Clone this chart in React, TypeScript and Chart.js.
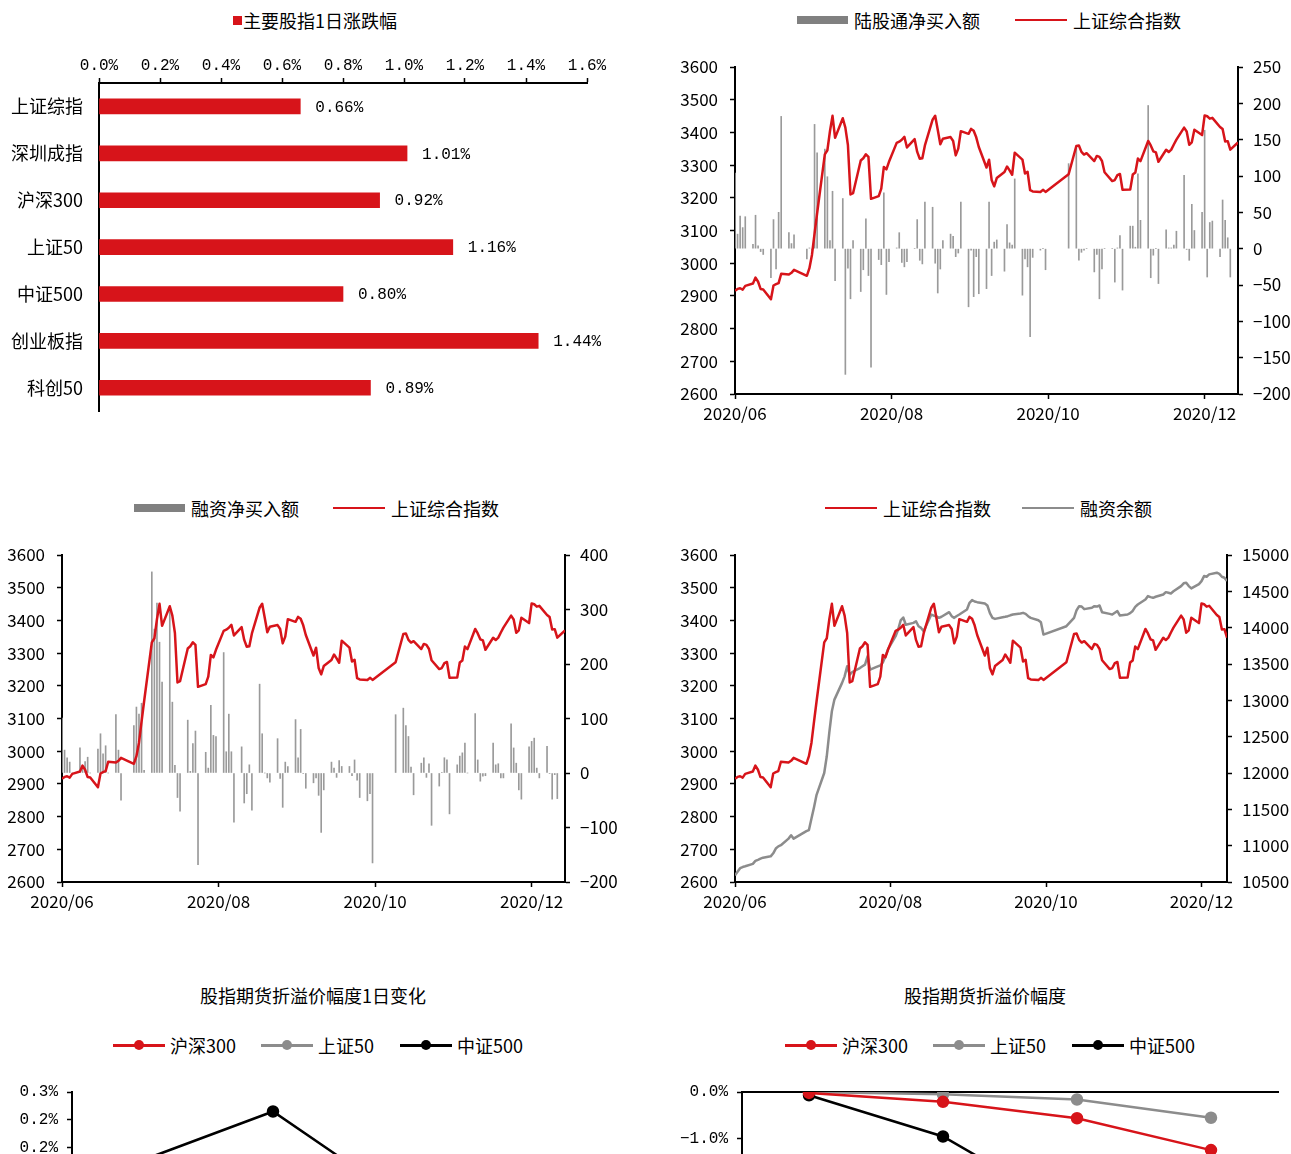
import React, { useEffect, useRef } from "react";
import { Chart, registerables } from "chart.js";
Chart.register(...registerables);

const RED = "#D7141A";
const GRAY_BAR = "#9A9A9A";
const GRAY_LINE = "#8C8C8C";
const CJK = '"Noto Sans CJK SC", "Noto Sans", sans-serif';
const MONO = '"Liberation Mono", "DejaVu Sans Mono", monospace';

// ---- Chart 1: 主要股指1日涨跌幅 ----
const indexNames = ["上证综指", "深圳成指", "沪深300", "上证50", "中证500", "创业板指", "科创50"];
const indexChanges = [0.66, 1.01, 0.92, 1.16, 0.8, 1.44, 0.89];

// ---- Trading days (month, days) 2020/06/01 - 2020/12/14 ----
const tradingDays: [number, number[]][] = [
  [6, [1, 2, 3, 4, 5, 8, 9, 10, 11, 12, 15, 16, 17, 18, 19, 22, 23, 24, 29, 30]],
  [7, [1, 2, 3, 6, 7, 8, 9, 10, 13, 14, 15, 16, 17, 20, 21, 22, 23, 24, 27, 28, 29, 30, 31]],
  [8, [3, 4, 5, 6, 7, 10, 11, 12, 13, 14, 17, 18, 19, 20, 21, 24, 25, 26, 27, 28, 31]],
  [9, [1, 2, 3, 4, 7, 8, 9, 10, 11, 14, 15, 16, 17, 18, 21, 22, 23, 24, 25, 28, 29, 30]],
  [10, [9, 12, 13, 14, 15, 16, 19, 20, 21, 22, 23, 26, 27, 28, 29, 30]],
  [11, [2, 3, 4, 5, 6, 9, 10, 11, 12, 13, 16, 17, 18, 19, 20, 23, 24, 25, 26, 27, 30]],
  [12, [1, 2, 3, 4, 7, 8, 9, 10, 11, 14]],
];

// 上证综合指数
const shComposite = [
  2915.43, 2921.4, 2923.37, 2919.25, 2930.8, 2937.77, 2956.11, 2943.32, 2920.9, 2919.74, 2890.03, 2931.75, 2935.87, 2939.32, 2967.63, 2965.27, 2970.62, 2979.55, 2961.52, 2984.67,
  3025.98, 3090.57, 3152.81, 3332.88, 3345.34, 3403.44, 3450.59, 3383.32, 3443.29, 3414.62, 3361.3, 3210.1, 3214.13, 3314.15, 3320.9, 3333.16, 3325.11, 3196.77, 3205.23, 3227.96, 3294.55, 3286.82, 3310.01,
  3367.97, 3371.69, 3377.56, 3386.46, 3354.04, 3379.25, 3340.29, 3319.27, 3320.73, 3360.1, 3438.8, 3451.09, 3408.13, 3363.9, 3380.68, 3385.64, 3373.58, 3329.74, 3350.44, 3403.81, 3395.68,
  3410.61, 3404.8, 3384.98, 3355.37, 3292.59, 3316.42, 3254.63, 3234.82, 3260.35, 3278.81, 3295.68, 3283.92, 3270.44, 3338.09, 3316.94, 3274.3, 3279.71, 3223.18, 3219.42, 3217.53, 3224.36, 3218.05,
  3272.08, 3358.47, 3359.75, 3340.47, 3332.18, 3336.36, 3312.5, 3328.1, 3325.03, 3312.49, 3278.0, 3251.12, 3254.32, 3269.24, 3272.74, 3224.53,
  3225.12, 3271.07, 3277.44, 3320.13, 3312.16, 3373.73, 3360.15, 3342.2, 3338.68, 3310.1, 3346.97, 3339.9, 3347.3, 3363.09, 3377.73, 3414.49, 3402.82, 3362.33, 3369.73, 3408.31, 3391.76,
  3451.94, 3449.38, 3442.14, 3444.58, 3416.6, 3410.18, 3371.96, 3373.28, 3347.19, 3369.12,
];

// 陆股通净买入额（亿元）
const northboundNetBuy: (number | null)[] = [
  104, 20, 45, 29, 44, 6, 46, 4, -4, -8, -40, 40, -28, 50, 182, 22, 7, 19, -14, 1,
  -2, 171, 132, 137, 99, 11, 79, -44, 69, -173, -27, -69, 11, -59, -29, 41, -37, -163, -15, -22, 77, -63, -18,
  1, 22, -19, -25, -18, 0, 40, -16, -21, 64, 57, -20, -61, -28, 11, 20, 17, -11, -6, 64, -80,
  -2, -66, -11, -62, -55, 64, -37, 9, 12, -31, 33, 8, 5, 96, -64, -14, -25, -121, -12, -2, 0, -29,
  117, 140, -16, -5, -2, 0, -32, -8, -69, -28, 0, 0, -46, 1, 18, -57,
  31, 31, 2, 103, 39, 197, -40, -9, 0, -48, 26, 1, 1, 5, 24, 101, -1, -16, 61, 25, 50,
  163, -39, 36, 38, -11, 67, 39, 15, -39, null,
];

// 融资净买入额（亿元）
const marginNetBuy: (number | null)[] = [
  101, 42, 28, 20, 0, 46, 8, 21, 29, 0, 44, 72, 35, 50, 0, 107, 42, -50, 87, 121,
  108, 128, 5, 369, 264, 312, 240, 167, 306, 130, 14, -45, -70, 97, 3, 54, 77, -168, 38, 9, 124, 69, 67,
  221, 39, 108, 39, -90, 48, -55, -38, 15, -68, 163, 72, 0, -9, -17, 63, -10, -63, 20, 12, 98,
  28, 80, -1, -28, -18, -9, -41, -109, -31, 20, 9, -8, 23, 12, 12, -5, 24, -13, -45, -51, -38, -165,
  107, 119, 87, 67, 11, -40, 18, 28, -8, 17, -96, -24, 1, 28, 24, -75,
  15, 31, 37, 55, 0, 109, 24, -15, -6, -5, 55, 15, 17, -9, -9, 90, 46, 18, -31, -48, 48,
  58, 64, 9, -9, 49, -1, -48, -3, -47, null,
];

// 融资余额（亿元）
const marginBalance: (number | null)[] = [
  10591, 10640, 10690, 10706, 10716, 10750, 10790, 10805, 10821, 10835, 10853, 10895, 10960, 10990, 11006, 11097, 11143, 11097, 11200, 11215,
  11374, 11530, 11700, 12000, 12230, 12560, 12850, 13010, 13240, 13330, 13468, 13352, 13390, 13444, 13468, 13491, 13606, 13422, 13468, 13480, 13520, 13606, 13700,
  13882, 13974, 14100, 14140, 14040, 14066, 14089, 14020, 13997, 13951, 14181, 14165, 14158, 14135, 14150, 14213, 14158, 14135, 14160, 14181, 14250,
  14342, 14379, 14360, 14351, 14333, 14305, 14200, 14135, 14121, 14144, 14150, 14158, 14170, 14181, 14195, 14204, 14190, 14158, 14135, 14103, 14075, 13905,
  14020, 14135, 14240, 14296, 14290, 14255, 14273, 14296, 14290, 14305, 14213, 14190, 14180, 14205, 14227, 14167,
  14181, 14200, 14230, 14287, 14319, 14388, 14434, 14420, 14411, 14425, 14457, 14489, 14480, 14471, 14500, 14572, 14610, 14618, 14572, 14540, 14600,
  14641, 14710, 14701, 14733, 14756, 14740, 14701, 14687, 14641, null,
];

const dateTickDays = [0, 61, 122, 183];
const dateTickLabels = ["2020/06", "2020/08", "2020/10", "2020/12"];

// ---- 股指期货 ----
const futuresContracts = ["当月", "下月", "当季", "下季"];
const basisChgHS300 = [0.06, 0.1, 0.04, -0.02];
const basisChgSZ50 = [0.03, 0.06, 0.02, -0.03];
const basisChgZZ500 = [0.175, 0.265, 0.1, 0.04];
const basisHS300 = [-0.02, -0.21, -0.56, -1.24];
const basisSZ50 = [0.0, -0.05, -0.16, -0.55];
const basisZZ500 = [-0.07, -0.95, -2.6, -3.2];

// ---------- helpers ----------
const dayOffsets: number[] = [];
tradingDays.forEach(([m, days]) =>
  days.forEach((d) => dayOffsets.push(Math.round((Date.UTC(2020, m - 1, d) - Date.UTC(2020, 5, 1)) / 86400000)))
);
const toPoints = (vals: (number | null)[]) =>
  vals.map((v, i) => ({ x: dayOffsets[i], y: v })).filter((p) => p.y !== null) as { x: number; y: number }[];

const minusFmt = (v: number) => (v < 0 ? "\u2212" + Math.abs(v) : String(v));

function tickAxis(extra: any) {
  return {
    grid: { display: true, offset: false, drawOnChartArea: false, drawTicks: true, tickLength: 5, tickColor: "#000", tickWidth: 1.5, color: "#000" },
    border: { display: true, color: "#000", width: 2 },
    ...extra,
    ticks: { color: "#000", font: { family: CJK, size: 17 }, padding: 10, ...(extra.ticks || {}) },
  };
}

function xDateAxis(max: number) {
  return tickAxis({
    type: "linear",
    min: 0,
    max,
    offset: false,
    afterBuildTicks: (s: any) => {
      s.ticks = dateTickDays.map((v) => ({ value: v }));
    },
    afterFit: (s: any) => {
      s.height = 46;
    },
    ticks: {
      autoSkip: false,
      maxRotation: 0,
      padding: 4,
      callback: (v: number) => {
        const i = dateTickDays.indexOf(v);
        return i >= 0 ? dateTickLabels[i] : "";
      },
    },
  });
}

const fixW = (w: number) => (s: any) => {
  s.width = w;
};

const barLabels = {
  id: "barLabels",
  afterDatasetsDraw(chart: any) {
    const ctx = chart.ctx;
    const meta = chart.getDatasetMeta(0);
    ctx.save();
    ctx.font = `16px ${MONO}`;
    ctx.fillStyle = "#000";
    ctx.textAlign = "left";
    ctx.textBaseline = "middle";
    meta.data.forEach((bar: any, i: number) => {
      ctx.fillText(indexChanges[i].toFixed(2) + "%", bar.x + 15, bar.y + 1);
    });
    ctx.restore();
  },
};

const baseOpts = {
  animation: false,
  responsive: false,
  maintainAspectRatio: false,
  plugins: { legend: { display: false }, tooltip: { enabled: false }, title: { display: false } },
};

function makeChart1(c: HTMLCanvasElement) {
  return new Chart(c, {
    type: "bar",
    data: { labels: indexNames, datasets: [{ data: indexChanges, backgroundColor: RED, barThickness: 15 }] },
    options: {
      ...baseOpts,
      indexAxis: "y",
      layout: { padding: { left: 0, right: 53, top: 0, bottom: 9 } },
      scales: {
        x: tickAxis({
          position: "top",
          min: 0,
          max: 1.6,
          afterFit: (s: any) => {
            s.height = 43;
          },
          ticks: { stepSize: 0.2, font: { family: MONO, size: 16 }, padding: 3, callback: (v: number) => v.toFixed(1) + "%" },
        }),
        y: {
          grid: { display: true, drawOnChartArea: false, drawTicks: false },
          border: { display: true, color: "#000", width: 2 },
          afterFit: fixW(99),
          ticks: { color: "#000", font: { family: CJK, size: 18 }, padding: 16 },
        },
      },
    } as any,
    plugins: [barLabels],
  });
}

function makeBarLineChart(
  c: HTMLCanvasElement,
  bars: (number | null)[],
  y1: { min: number; max: number; step: number },
  leftW: number,
  rightW: number
) {
  return new Chart(c, {
    type: "line",
    data: {
      datasets: [
        { type: "bar", data: toPoints(bars), backgroundColor: GRAY_BAR, barThickness: 1, yAxisID: "y1", order: 2 } as any,
        {
          type: "line",
          data: toPoints(shComposite),
          borderColor: RED,
          borderWidth: 2.5,
          pointRadius: 0,
          tension: 0,
          borderJoinStyle: "round",
          yAxisID: "y",
          order: 1,
        },
      ],
    },
    options: {
      ...baseOpts,
      layout: { padding: { left: 0, right: 0, top: 27, bottom: 0 } },
      scales: {
        x: xDateAxis(196),
        y: tickAxis({ position: "left", min: 2600, max: 3600, afterFit: fixW(leftW), ticks: { stepSize: 100, padding: 12, callback: (v: number) => String(v) } }),
        y1: tickAxis({
          position: "right",
          min: y1.min,
          max: y1.max,
          afterFit: fixW(rightW),
          ticks: { stepSize: y1.step, padding: 10, callback: (v: number) => minusFmt(v) },
        }),
      },
    } as any,
  });
}

function makeChart4(c: HTMLCanvasElement) {
  return new Chart(c, {
    type: "line",
    data: {
      datasets: [
        {
          data: toPoints(shComposite.slice(0, shComposite.length - 1)),
          borderColor: RED,
          borderWidth: 2.5,
          pointRadius: 0,
          tension: 0,
          borderJoinStyle: "round",
          yAxisID: "y",
          order: 1,
        },
        {
          data: toPoints(marginBalance),
          borderColor: GRAY_LINE,
          borderWidth: 2.5,
          pointRadius: 0,
          tension: 0,
          borderJoinStyle: "round",
          yAxisID: "y1",
          order: 2,
        },
      ],
    },
    options: {
      ...baseOpts,
      layout: { padding: { left: 0, right: 0, top: 27, bottom: 0 } },
      scales: {
        x: xDateAxis(193),
        y: tickAxis({ position: "left", min: 2600, max: 3600, afterFit: fixW(95), ticks: { stepSize: 100, padding: 12, callback: (v: number) => String(v) } }),
        y1: tickAxis({ position: "right", min: 10500, max: 15000, afterFit: fixW(64), ticks: { stepSize: 500, padding: 10, callback: (v: number) => String(v) } }),
      },
    } as any,
  });
}

function markerSet(label: string, data: number[], color: string) {
  return {
    label,
    data,
    borderColor: color,
    backgroundColor: color,
    pointBackgroundColor: color,
    pointBorderColor: color,
    pointRadius: 5,
    borderWidth: 2.5,
    tension: 0,
  };
}

function makeFuturesChart(
  c: HTMLCanvasElement,
  s300: number[],
  s50: number[],
  s500: number[],
  y: { min: number; max: number; step: number; fmt: (v: number) => string },
  leftW: number,
  rightPad: number,
  bottomPad: number,
  xTop: boolean
) {
  return new Chart(c, {
    type: "line",
    data: {
      labels: futuresContracts,
      datasets: [markerSet("沪深300", s300, RED), markerSet("上证50", s50, GRAY_LINE), markerSet("中证500", s500, "#000")],
    },
    options: {
      ...baseOpts,
      layout: { padding: { left: 0, right: rightPad, top: 22, bottom: bottomPad } },
      scales: {
        x: {
          position: xTop ? "top" : "bottom",
          offset: true,
          grid: { display: true, offset: false, drawOnChartArea: false, drawTicks: false },
          border: { display: true, color: "#000", width: 2 },
          ticks: { display: !xTop, color: "#000", font: { family: CJK, size: 17 } },
          afterFit: (s: any) => {
            s.height = xTop ? 0 : 40;
          },
        },
        y: tickAxis({
          min: y.min,
          max: y.max,
          afterFit: fixW(leftW),
          ticks: { stepSize: y.step, font: { family: MONO, size: 16 }, padding: 9, callback: (v: number) => y.fmt(v) },
        }),
      },
    } as any,
  });
}

// ---------- legend (HTML) ----------
type SwKind = "rect" | "square" | "line" | "lineDot";
function Swatch({ kind, color }: { kind: SwKind; color: string }) {
  if (kind === "rect") return <div style={{ width: 51, height: 8, background: color }} />;
  if (kind === "square") return <div style={{ width: 9, height: 9, background: color }} />;
  if (kind === "line") return <div style={{ width: 52, height: 2.5, background: color }} />;
  return (
    <div style={{ position: "relative", width: 52, height: 12 }}>
      <div style={{ position: "absolute", left: 0, top: 5, width: 52, height: 2.5, background: color }} />
      <div style={{ position: "absolute", left: 21, top: 1, width: 10, height: 10, borderRadius: "50%", background: color }} />
    </div>
  );
}
function LegendItem({ x, y, kind, color, label, gap = 6 }: { x: number; y: number; kind: SwKind; color: string; label: string; gap?: number }) {
  return (
    <div
      style={{
        position: "absolute",
        left: x,
        top: y - 13,
        height: 26,
        display: "flex",
        alignItems: "center",
        whiteSpace: "nowrap",
        fontSize: 18,
        fontFamily: CJK,
        color: "#000",
      }}
    >
      <Swatch kind={kind} color={color} />
      <span style={{ marginLeft: gap, lineHeight: "26px" }}>{label}</span>
    </div>
  );
}
function Title({ cx, y, text }: { cx: number; y: number; text: string }) {
  return (
    <div
      style={{
        position: "absolute",
        left: cx - 200,
        width: 400,
        top: y - 13,
        height: 26,
        lineHeight: "26px",
        textAlign: "center",
        fontSize: 18,
        fontFamily: CJK,
        color: "#000",
      }}
    >
      {text}
    </div>
  );
}

export default function App() {
  const r1 = useRef<HTMLCanvasElement>(null);
  const r2 = useRef<HTMLCanvasElement>(null);
  const r3 = useRef<HTMLCanvasElement>(null);
  const r4 = useRef<HTMLCanvasElement>(null);
  const r5 = useRef<HTMLCanvasElement>(null);
  const r6 = useRef<HTMLCanvasElement>(null);

  useEffect(() => {
    const charts = [
      makeChart1(r1.current!),
      makeBarLineChart(r2.current!, northboundNetBuy, { min: -200, max: 250, step: 50 }, 95, 53),
      makeBarLineChart(r3.current!, marginNetBuy, { min: -200, max: 400, step: 100 }, 62, 75),
      makeChart4(r4.current!),
      makeFuturesChart(
        r5.current!,
        basisChgHS300,
        basisChgSZ50,
        basisChgZZ500,
        { min: -0.2, max: 0.3, step: 0.05, fmt: (v) => (Math.floor(v * 10 + 1e-6) / 10).toFixed(1).replace("-", "\u2212") + "%" },
        72,
        32,
        0,
        false
      ),
      makeFuturesChart(
        r6.current!,
        basisHS300,
        basisSZ50,
        basisZZ500,
        { min: -4, max: 0, step: 1, fmt: (v) => (v < 0 ? "\u2212" : "") + Math.abs(v).toFixed(1) + "%" },
        102,
        13,
        10,
        true
      ),
    ];
    return () => charts.forEach((ch) => ch.destroy());
  }, []);

  const cv = (left: number, top: number, w: number, h: number): React.CSSProperties => ({
    position: "absolute",
    left,
    top,
    width: w,
    height: h,
  });

  return (
    <div style={{ position: "absolute", left: 0, top: 0, width: 1291, height: 1154, overflow: "hidden", background: "#fff" }}>
      {/* chart 1 */}
      <LegendItem x={233} y={20} kind="square" color={RED} label="主要股指1日涨跌幅" gap={1} />
      <canvas ref={r1} width={640} height={398} style={cv(0, 40, 640, 398)} />

      {/* chart 2 */}
      <LegendItem x={797} y={20} kind="rect" color="#808080" label="陆股通净买入额" />
      <LegendItem x={1015} y={20} kind="line" color={RED} label="上证综合指数" />
      <canvas ref={r2} width={651} height={400} style={cv(640, 40, 651, 400)} />

      {/* chart 3 */}
      <LegendItem x={134} y={508} kind="rect" color="#808080" label="融资净买入额" />
      <LegendItem x={333} y={508} kind="line" color={RED} label="上证综合指数" />
      <canvas ref={r3} width={640} height={400} style={cv(0, 528, 640, 400)} />

      {/* chart 4 */}
      <LegendItem x={825} y={508} kind="line" color={RED} label="上证综合指数" />
      <LegendItem x={1022} y={508} kind="line" color={GRAY_LINE} label="融资余额" />
      <canvas ref={r4} width={651} height={400} style={cv(640, 528, 651, 400)} />

      {/* chart 5 */}
      <Title cx={313} y={995} text="股指期货折溢价幅度1日变化" />
      <LegendItem x={113} y={1045} kind="lineDot" color={RED} label="沪深300" gap={5} />
      <LegendItem x={261} y={1045} kind="lineDot" color={GRAY_LINE} label="上证50" gap={5} />
      <LegendItem x={400} y={1045} kind="lineDot" color="#000" label="中证500" gap={5} />
      <canvas ref={r5} width={640} height={340} style={cv(0, 1070, 640, 340)} />

      {/* chart 6 */}
      <Title cx={985} y={995} text="股指期货折溢价幅度" />
      <LegendItem x={785} y={1045} kind="lineDot" color={RED} label="沪深300" gap={5} />
      <LegendItem x={933} y={1045} kind="lineDot" color={GRAY_LINE} label="上证50" gap={5} />
      <LegendItem x={1072} y={1045} kind="lineDot" color="#000" label="中证500" gap={5} />
      <canvas ref={r6} width={651} height={228} style={cv(640, 1070, 651, 228)} />
    </div>
  );
}
